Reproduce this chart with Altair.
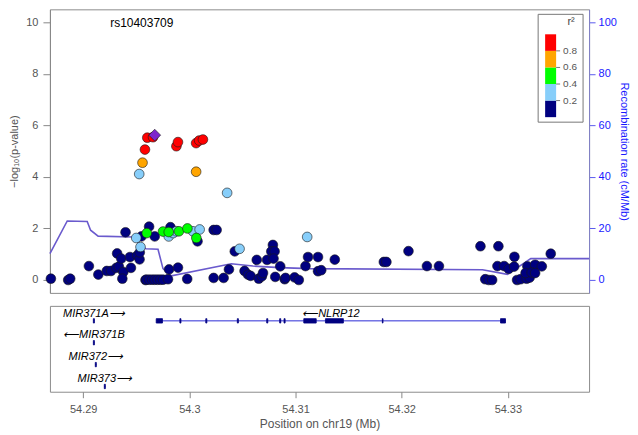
import altair as alt
import pandas as pd

FONT = "Liberation Sans"
X_DOMAIN = [54.28687, 54.33765]

# ---- SNPs: position (Mb) and -log10(p), grouped by LD r^2 bin ----
navy_pos = [54.28696, 54.28859, 54.28878, 54.29054, 54.29143, 54.29223, 54.29262, 54.29320,
            54.29312, 54.29336, 54.29359, 54.29378, 54.29369, 54.29399, 54.29441, 54.29450,
            54.29510, 54.29531, 54.29533, 54.29549, 54.29587, 54.29621, 54.29674,
            54.29596, 54.29622, 54.29649, 54.29674, 54.29700, 54.29726, 54.29752,
            54.29799, 54.29809, 54.29893, 54.29822, 54.30077, 54.29980, 54.30229, 54.30257,
            54.30229, 54.30323, 54.30373, 54.30428, 54.30520, 54.30552, 54.30577, 54.30635,
            54.30654, 54.30683, 54.30694, 54.30732, 54.30787, 54.30772, 54.30803, 54.30793,
            54.30856, 54.30809, 54.30898, 54.30906, 54.30991, 54.31031, 54.31094, 54.31118,
            54.31212, 54.31212, 54.31242, 54.31370, 54.31832, 54.31856, 54.32064, 54.32238,
            54.32351, 54.32742, 54.32911, 54.33062, 54.32902, 54.32965, 54.33008, 54.33059,
            54.32787, 54.32820, 54.32852, 54.33087, 54.33120, 54.33177, 54.33205, 54.33184,
            54.33257, 54.33320, 54.33167, 54.33224, 54.33257, 54.33404]
navy_logp = [0.05, 0.00, 0.05, 0.54, 0.21, 0.35, 0.35, 1.03,
             0.47, 0.52, 0.83, 0.31, 0.05, 1.85, 0.89, 0.47,
             0.95, 0.80, 1.07, 1.69, 0.00, 2.07, 1.69,
             0.01, 0.01, 0.01, 0.01, 0.01, 0.01, 0.01,
             0.03, 0.41, 0.48, 2.05, 1.50, 0.04, 1.94, 1.94,
             0.08, 0.08, 0.41, 1.11, 0.35, 0.21, 0.16, 0.78,
             0.05, 0.14, 0.27, 0.78, 1.36, 1.11, 1.11, 0.83,
             0.53, 0.12, 0.03, 0.08, 0.10, 0.00, 0.54, 0.89,
             0.89, 0.34, 0.38, 0.79, 0.70, 0.70, 1.12, 0.54,
             0.54, 1.31, 1.31, 0.90, 0.54, 0.54, 0.43, 0.52,
             0.03, 0.00, 0.00, 0.00, 0.03, 0.05, 0.09, 0.53,
             0.59, 0.53, 0.27, 0.29, 0.27, 1.02]

lblue_pos = [54.29528, 54.30356, 54.29500, 54.29540, 54.29806, 54.29848, 54.29878,
             54.30034, 54.30097, 54.30473, 54.31110]
lblue_logp = [4.11, 3.38, 1.63, 1.28, 1.69, 1.82, 1.89, 1.89, 1.96, 1.21, 1.67]

green_pos = [54.29599, 54.29752, 54.29806, 54.29902, 54.29982, 54.30066]
green_logp = [1.82, 1.88, 1.86, 1.89, 2.00, 1.63]

orange_pos = [54.29559, 54.30064]
orange_logp = [4.55, 4.20]

red_pos = [54.29604, 54.29658, 54.29582, 54.29878, 54.29893, 54.30064, 54.30093, 54.30128]
red_logp = [5.52, 5.54, 5.06, 5.19, 5.35, 5.31, 5.41, 5.45]

lead_pos = [54.29674]
lead_logp = [5.62]
lead_name = "rs10403709"
lead_label_pos = 54.29552
lead_label_y = 9.96

ld_bins = ["0.0-0.2", "0.2-0.4", "0.4-0.6", "0.6-0.8", "0.8-1.0", "lead"]
ld_colors = ["#000080", "#87CEFA", "#00FF00", "#FFA500", "#FF0000", "#7D26CD"]

# ---- recombination rate ----
rec_pos = [54.28687, 54.28850, 54.29038, 54.29070, 54.29141, 54.29470, 54.29533, 54.29590,
           54.29705, 54.29752, 54.29831, 54.30395, 54.30598, 54.30850, 54.31132, 54.32761,
           54.32996, 54.33216, 54.33765]
rec_rate = [10.2, 22.9, 22.7, 19.3, 17.0, 16.7, 14.1, 12.1,
            11.9, 4.4, 1.6, 6.3, 5.4, 4.8, 4.4, 4.0,
            2.2, 8.3, 8.3]

# ---- genes ----
gene_names = ["NLRP12", "MIR371A", "MIR371B", "MIR372", "MIR373"]
gene_start = [54.29688, 54.29096, 54.29096, 54.29114, 54.29199]
gene_end = [54.32978, 54.29106, 54.29106, 54.29124, 54.29209]
gene_row = [0, 0, 1, 2, 3]
gene_strand = ["-", "+", "-", "+", "+"]

exon_start = [54.29688, 54.29911, 54.30155, 54.30452, 54.30729, 54.30851, 54.30892,
              54.31078, 54.31282, 54.31818, 54.32931]
exon_end = [54.29747, 54.29921, 54.30165, 54.30462, 54.30739, 54.30861, 54.30902,
            54.31195, 54.31451, 54.31824, 54.32978]

legend_breaks = [0.2, 0.4, 0.6, 0.8]
legend_lo = [0.0, 0.2, 0.4, 0.6, 0.8]
legend_hi = [0.2, 0.4, 0.6, 0.8, 1.0]

# ---- tables ----
frames = []
for k, (b, p, l) in enumerate([(ld_bins[0], navy_pos, navy_logp), (ld_bins[1], lblue_pos, lblue_logp),
                                (ld_bins[2], green_pos, green_logp), (ld_bins[3], orange_pos, orange_logp),
                                (ld_bins[4], red_pos, red_logp), (ld_bins[5], lead_pos, lead_logp)]):
    frames.append(pd.DataFrame({"pos": p, "logp": l, "ld": b, "k": k,
                                "shape": "diamond" if b == "lead" else "circle"}))
snp_df = pd.concat(frames, ignore_index=True)
snp_df["i"] = range(len(snp_df))

rec_df = pd.DataFrame({"pos": rec_pos, "rate": rec_rate})

gene_df = pd.DataFrame({"name": gene_names, "start": gene_start, "end": gene_end,
                        "row": gene_row, "strand": gene_strand})
gene_df["mid"] = (gene_df["start"] + gene_df["end"]) / 2
gene_df["label"] = [("\u27f5" + n) if s == "-" else (n + "\u27f6") for n, s in zip(gene_names, gene_strand)]
gene_df["label_row"] = gene_df["row"] - 0.33

exon_rows = [{"start": s, "end": e, "row": 0} for s, e in zip(exon_start, exon_end)]
for s, e, r, n in zip(gene_start, gene_end, gene_row, gene_names):
    if n.startswith("MIR"):
        exon_rows.append({"start": s, "end": e, "row": r})
exon_df = pd.DataFrame(exon_rows)
exon_df["y0"] = exon_df["row"] - 0.1
exon_df["y1"] = exon_df["row"] + 0.1

leg_df = pd.DataFrame({"lo": legend_lo, "hi": legend_hi, "ld": ld_bins[:5]})
leg_lab_df = pd.DataFrame({"b": legend_breaks, "lab": [f"{v:.1f}" for v in legend_breaks]})

xscale = alt.Scale(domain=X_DOMAIN, nice=False, zero=False)
yscale = alt.Scale(domain=[-0.5, 10.5], nice=False, zero=False)
cscale = alt.Scale(domain=ld_bins, range=ld_colors)
legscale = alt.Scale(domain=[0, 1], range=[108, 25], nice=False, zero=False)

rec = alt.Chart(rec_df).mark_line(color="#6A5ACD", strokeWidth=1.6).encode(
    x=alt.X("pos:Q", scale=xscale, axis=None),
    y=alt.Y("rate:Q", scale=alt.Scale(domain=[-5, 105], nice=False, zero=False),
            axis=alt.Axis(orient="right", values=[0, 20, 40, 60, 80, 100],
                          title="Recombination rate (cM/Mb)", titleColor="#1a1aff",
                          labelColor="#1a1aff", tickColor="#5a5aee", domainColor="#8080c8",
                          tickSize=6, labelPadding=3, grid=False, titlePadding=2,
                          titleFontSize=11)),
)

pts = alt.Chart(snp_df).mark_point(filled=True, stroke="#1a1a1a", strokeWidth=0.6, opacity=1).encode(
    x=alt.X("pos:Q", scale=xscale, axis=None),
    y=alt.Y("logp:Q", scale=yscale,
            axis=alt.Axis(orient="left", values=[0, 2, 4, 6, 8, 10], title="\u2212log\u2081\u2080(p-value)",
                          tickSize=7, labelPadding=5, grid=False, titlePadding=6)),
    color=alt.Color("ld:N", scale=cscale, legend=None),
    shape=alt.Shape("shape:N", scale=alt.Scale(domain=["circle", "diamond"], range=["circle", "diamond"]), legend=None),
    size=alt.Size("shape:N", scale=alt.Scale(domain=["circle", "diamond"], range=[95, 140]), legend=None),
    order=alt.Order("i:Q"),
)

lbl = alt.Chart(pd.DataFrame({"pos": [lead_label_pos], "y": [lead_label_y], "t": [lead_name]})).mark_text(
    fontSize=12, color="black", align="center", baseline="middle").encode(
    x=alt.X("pos:Q", scale=xscale, axis=None),
    y=alt.Y("y:Q", scale=yscale, axis=None),
    text="t:N",
)

box = alt.Chart(pd.DataFrame({"a": [0]})).mark_rect(fill="white", stroke="#777777", strokeWidth=1).encode(
    x=alt.value(489), x2=alt.value(534), y=alt.value(5), y2=alt.value(113))

leg_rect = alt.Chart(leg_df).mark_rect().encode(
    x=alt.value(496), x2=alt.value(507),
    y=alt.Y("lo:Q", scale=legscale, axis=None), y2="hi:Q",
    color=alt.Color("ld:N", scale=cscale, legend=None),
)
leg_ticks = alt.Chart(leg_lab_df).mark_rule(color="#777777").encode(
    x=alt.value(507), x2=alt.value(511), y=alt.Y("b:Q", scale=legscale, axis=None))
leg_labels = alt.Chart(leg_lab_df).mark_text(align="left", baseline="middle", fontSize=10, color="#555555").encode(
    x=alt.value(514), y=alt.Y("b:Q", scale=legscale, axis=None), text="lab:N")
leg_title = alt.Chart(pd.DataFrame({"t": ["r\u00b2"]})).mark_text(fontSize=11, color="#444444").encode(
    x=alt.value(522), y=alt.value(13), text="t:N")

top = alt.layer(rec, pts, lbl, box, leg_rect, leg_ticks, leg_labels, leg_title).resolve_scale(
    y="independent").properties(width=540, height=284)

gscale = alt.Scale(domain=[3.24, -0.685], nice=False, zero=False)
gxaxis = alt.Axis(values=[54.29, 54.30, 54.31, 54.32, 54.33], format=".4~r", title="Position on chr19 (Mb)",
                  tickSize=6, labelPadding=6, domain=False, grid=False, titlePadding=4, titleFontSize=12)

glines = alt.Chart(gene_df).mark_rule(color="#2b2bd6", strokeWidth=1).encode(
    x=alt.X("start:Q", scale=xscale, axis=gxaxis), x2="end:Q",
    y=alt.Y("row:Q", scale=gscale, axis=None))
gexons = alt.Chart(exon_df).mark_rect(color="#000080", stroke="#000080", strokeWidth=0.8).encode(
    x=alt.X("start:Q", scale=xscale, axis=gxaxis), x2="end:Q",
    y=alt.Y("y0:Q", scale=gscale, axis=None), y2="y1:Q")
glabels = alt.Chart(gene_df).mark_text(fontStyle="italic", fontSize=11, color="black", baseline="middle").encode(
    x=alt.X("mid:Q", scale=xscale, axis=gxaxis),
    y=alt.Y("label_row:Q", scale=gscale, axis=None),
    text="label:N")

bottom = alt.layer(glines, gexons, glabels).properties(width=540, height=86)

chart = alt.vconcat(top, bottom, spacing=11).properties(
    padding={"left": 0, "top": 0, "right": 0, "bottom": 0}
).configure_view(stroke="#8c8c8c", strokeWidth=1).configure_axis(
    labelFont=FONT, titleFont=FONT, labelFontSize=11, titleFontSize=11,
    labelColor="#555555", titleColor="#555555", tickColor="#888888", domainColor="#888888",
    titleFontWeight="normal"
).configure_text(font=FONT)

chart.save("out.html", embed_options={"renderer": "svg", "actions": False})
